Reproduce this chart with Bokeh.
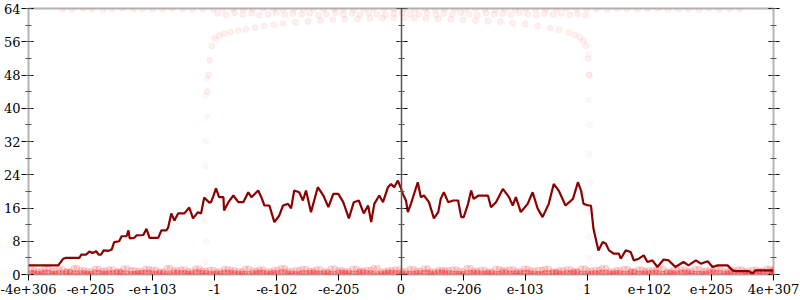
from bokeh.plotting import figure
from bokeh.models import Range1d, LinearAxis, FixedTicker, SingleIntervalTicker, CustomJSTickFormatter
from bokeh.embed import file_html
from bokeh.resources import INLINE

# ---- x axis: ordinal position of floating-point values ----
tick_pos = [-6, -5, -4, -3, -2, -1, 0, 1, 2, 3, 4, 5, 6]
tick_labels = ["-4e+306", "-e+205", "-e+103", "-1", "-e-102", "-e-205", "0",
               "e-206", "e-103", "1", "e+102", "e+205", "4e+307"]

# ---- average error line ----
line_x = [
    -6.00, -5.52, -5.44, -5.40, -5.18, -5.15, -5.07, -5.02, -4.97, -4.91,
    -4.87, -4.83, -4.79, -4.71, -4.66, -4.62, -4.54, -4.50, -4.42, -4.39,
    -4.37, -4.30, -4.26, -4.15, -4.10, -4.05, -3.91, -3.86, -3.78, -3.75,
    -3.70, -3.65, -3.59, -3.49, -3.41, -3.35, -3.27, -3.22, -3.17, -3.09,
    -3.06, -3.02, -2.98, -2.93, -2.86, -2.85, -2.78, -2.70, -2.62, -2.54,
    -2.46, -2.41, -2.30, -2.25, -2.20, -2.12, -2.04, -1.96, -1.90, -1.82,
    -1.77, -1.72, -1.64, -1.58, -1.53, -1.45, -1.34, -1.25, -1.17, -1.09,
    -1.01, -0.93, -0.84, -0.76, -0.68, -0.60, -0.53, -0.48, -0.43, -0.35,
    -0.29, -0.21, -0.16, -0.11, -0.05, 0.00, 0.03, 0.08, 0.11, 0.16,
    0.27, 0.32, 0.37, 0.45, 0.53, 0.60, 0.64, 0.69, 0.76, 0.84,
    0.92, 0.97, 1.01, 1.08, 1.13, 1.17, 1.25, 1.40, 1.45, 1.53,
    1.64, 1.74, 1.80, 1.85, 1.93, 2.04, 2.12, 2.20, 2.28, 2.38,
    2.46, 2.54, 2.65, 2.77, 2.85, 2.90, 2.94, 3.02, 3.06, 3.10,
    3.18, 3.25, 3.30, 3.35, 3.43, 3.51, 3.54, 3.62, 3.70, 3.75,
    3.83, 3.91, 3.97, 4.05, 4.13, 4.23, 4.31, 4.42, 4.55, 4.63,
    4.75, 4.83, 4.94, 5.02, 5.10, 5.26, 5.34, 5.39, 5.60, 5.66,
    5.71, 6.00,
]
line_y = [
    2.2, 2.2, 3.8, 4.0, 4.0, 4.8, 4.8, 5.5, 5.2, 5.6,
    4.8, 4.8, 5.8, 5.7, 6.0, 7.8, 8.0, 9.2, 9.2, 10.6,
    8.7, 8.8, 9.4, 9.5, 11.0, 8.8, 8.8, 10.6, 10.6, 11.3,
    14.7, 13.0, 14.7, 14.7, 16.1, 13.5, 15.0, 14.7, 18.5, 17.3,
    17.4, 19.0, 20.7, 18.6, 18.6, 15.4, 17.4, 19.0, 17.4, 17.4,
    19.8, 18.6, 20.2, 18.6, 16.6, 16.6, 12.6, 14.2, 16.6, 17.0,
    15.9, 20.2, 19.8, 17.8, 20.2, 15.0, 21.0, 19.0, 16.2, 19.4,
    19.4, 17.4, 13.5, 17.4, 17.8, 14.7, 16.6, 12.6, 17.0, 19.0,
    17.4, 21.0, 21.8, 21.0, 22.6, 20.7, 19.4, 17.8, 15.0, 17.0,
    22.2, 18.6, 19.0, 17.4, 13.5, 15.0, 18.2, 19.8, 17.4, 17.8,
    17.8, 13.8, 13.8, 17.0, 20.2, 18.2, 19.0, 19.0, 16.2, 17.4,
    20.6, 18.6, 16.6, 18.6, 15.0, 17.0, 19.8, 15.9, 13.8, 17.0,
    21.8, 20.2, 16.6, 18.2, 22.2, 20.2, 17.0, 16.6, 16.6, 11.0,
    5.8, 7.8, 7.4, 5.8, 5.0, 5.0, 3.8, 5.8, 5.4, 3.4,
    3.8, 4.6, 3.0, 3.4, 1.8, 3.6, 3.4, 1.8, 3.0, 2.2,
    3.4, 2.6, 3.2, 1.8, 2.2, 2.2, 1.0, 0.8, 0.8, 0.2,
    1.0, 1.0,
]

# ---- sampled points (faint) ----
bot_x = [
    -5.96, -5.85, -5.74, -5.62, -5.51, -5.39, -5.27, -5.16, -5.05, -4.93,
    -4.81, -4.70, -4.58, -4.47, -4.35, -4.24, -4.12, -4.01, -3.89, -3.77,
    -3.66, -3.54, -3.43, -3.31, -3.20, -3.08, -2.97, -2.85, -2.74, -2.62,
    -2.51, -2.39, -2.28, -2.16, -2.05, -1.93, -1.82, -1.70, -1.59, -1.47,
    -1.36, -1.24, -1.13, -1.01, -0.90, -0.78, -0.67, -0.55, -0.44, -0.32,
    -0.21, -0.09, 0.02, 0.14, 0.25, 0.37, 0.48, 0.60, 0.71, 0.83,
    0.94, 1.06, 1.17, 1.29, 1.40, 1.52, 1.63, 1.75, 1.86, 1.98,
    2.09, 2.21, 2.32, 2.44, 2.55, 2.67, 2.78, 2.90, 3.01, 3.13,
    3.24, 3.36, 3.47, 3.59, 3.70, 3.82, 3.93, 4.05, 4.16, 4.28,
    4.39, 4.51, 4.62, 4.74, 4.85, 4.97, 5.08, 5.20, 5.31, 5.43,
    5.54, 5.66, 5.77, 5.89, 5.98,
]
bot_x2 = [
    -5.91, -5.79, -5.68, -5.57, -5.45, -5.33, -5.22, -5.10, -4.99, -4.87,
    -4.76, -4.64, -4.52, -4.41, -4.29, -4.18, -4.06, -3.95, -3.83, -3.72,
    -3.60, -3.48, -3.37, -3.25, -3.14, -3.02, -2.91, -2.79, -2.68, -2.56,
    -2.45, -2.33, -2.22, -2.10, -1.99, -1.87, -1.76, -1.64, -1.53, -1.41,
    -1.30, -1.18, -1.07, -0.95, -0.84, -0.72, -0.61, -0.49, -0.38, -0.26,
    -0.15, -0.03, 0.08, 0.20, 0.31, 0.43, 0.54, 0.66, 0.77, 0.89,
    1.00, 1.12, 1.23, 1.35, 1.46, 1.58, 1.69, 1.81, 1.92, 2.04,
    2.15, 2.27, 2.38, 2.50, 2.61, 2.73, 2.84, 2.96, 3.07, 3.19,
    3.30, 3.42, 3.53, 3.65, 3.76, 3.88, 3.99, 4.11, 4.22, 4.34,
    4.45, 4.57, 4.68, 4.80, 4.91, 5.03, 5.14, 5.26, 5.37, 5.49,
    5.60, 5.72, 5.83, 5.94, 5.99,
]
bot_y_low = [
    0.3, 0.2, 0.4, 0.1, 0.3, 0.5, 0.2, 0.3, 0.1, 0.4,
    0.2, 0.3, 0.5, 0.2, 0.1, 0.3, 0.4, 0.2, 0.3, 0.1,
    0.4, 0.3, 0.2, 0.5, 0.3, 0.1, 0.2, 0.4, 0.3, 0.2,
    0.1, 0.3, 0.4, 0.2, 0.3, 0.5, 0.2, 0.1, 0.3, 0.4,
    0.2, 0.3, 0.1, 0.4, 0.3, 0.2, 0.5, 0.3, 0.1, 0.2,
    0.4, 0.3, 0.2, 0.1, 0.3, 0.4, 0.2, 0.5, 0.3, 0.2,
    0.1, 0.3, 0.4, 0.2, 0.3, 0.1, 0.5, 0.2, 0.3, 0.4,
    0.2, 0.1, 0.3, 0.4, 0.2, 0.3, 0.5, 0.1, 0.2, 0.3,
    0.4, 0.2, 0.3, 0.1, 0.5, 0.2, 0.3, 0.4, 0.1, 0.3,
    0.2, 0.4, 0.3, 0.1, 0.2, 0.5, 0.3, 0.2, 0.4, 0.1,
    0.3, 0.2, 0.4, 0.3, 0.2,
]
bot_y_high = [
    1.1, 0.8, 1.4, 0.9, 1.2, 0.7, 1.5, 1.0, 0.8, 1.3,
    0.9, 1.2, 0.7, 1.4, 1.0, 0.8, 1.3, 1.1, 0.7, 1.5,
    1.0, 1.2, 0.8, 1.4, 0.9, 1.1, 0.7, 1.3, 1.0, 0.8,
    1.4, 0.9, 1.2, 0.7, 1.1, 1.5, 0.8, 1.0, 1.3, 0.9,
    1.2, 0.7, 1.4, 1.0, 0.8, 1.3, 0.9, 1.1, 1.5, 0.7,
    1.0, 1.2, 0.8, 1.3, 0.9, 1.4, 0.7, 1.1, 1.0, 1.2,
    0.8, 1.5, 0.9, 1.1, 0.7, 1.3, 1.0, 1.2, 0.8, 1.4,
    0.9, 1.1, 1.3, 0.7, 1.0, 1.2, 0.8, 1.4, 0.9, 1.1,
    1.5, 0.7, 1.0, 1.3, 0.8, 1.2, 0.9, 1.1, 1.4, 0.7,
    1.0, 1.2, 0.8, 1.3, 0.9, 1.1, 1.5, 0.7, 1.0, 1.2,
    0.8, 1.1, 0.9, 1.3, 1.0,
]
top_x = [
    -5.45, -5.30, -5.12, -4.98, -4.80, -4.66, -4.49, -4.31, -4.17, -4.00,
    -3.84, -3.69, -3.51, -3.36, -3.19, -3.02, -2.88, -2.71, -2.54, -2.39,
    -2.22, -2.05, -1.90, -1.73, -1.57, -1.41, -1.25, -1.08, -0.93, -0.76,
    -0.60, -0.44, -0.27, -0.11, 0.06, 0.22, 0.39, 0.55, 0.70, 0.87,
    1.03, 1.20, 1.35, 1.52, 1.68, 1.84, 2.01, 2.17, 2.33, 2.50,
    2.66, 2.82, 2.99, 3.15, 3.32, 3.48, 3.64, 3.81, 3.97, 4.14,
    4.30, 4.47, 4.63, 4.80, 4.96, 5.13, 5.29, 5.46,
]
top_y = [
    63.9, 63.8, 64.0, 63.9, 63.7, 63.9, 64.0, 63.8, 63.9, 63.9,
    63.8, 64.0, 63.9, 63.7, 63.9, 63.8, 64.0, 63.9, 63.8, 63.9,
    64.0, 63.9, 63.7, 63.9, 63.8, 64.0, 63.9, 63.9, 63.8, 63.7,
    63.9, 64.0, 63.8, 63.9, 63.9, 63.7, 64.0, 63.8, 63.9, 63.9,
    63.8, 64.0, 63.9, 63.7, 63.9, 63.8, 64.0, 63.9, 63.8, 63.9,
    64.0, 63.9, 63.8, 63.9, 63.7, 64.0, 63.9, 63.8, 63.9, 64.0,
    63.8, 63.9, 63.9, 63.7, 64.0, 63.8, 63.9, 63.9,
]
mid_x = [
    -2.95, -2.82, -2.68, -2.55, -2.41, -2.28, -2.14, -2.01, -1.87, -1.74,
    -1.60, -1.47, -1.33, -1.20, -1.06, -0.93, -0.79, -0.66, -0.52, -0.39,
    -0.25, -0.12, 0.02, 0.15, 0.29, 0.42, 0.56, 0.69, 0.83, 0.96,
    1.10, 1.23, 1.37, 1.50, 1.64, 1.77, 1.91, 2.04, 2.18, 2.31,
    2.45, 2.58, 2.72, 2.85, 2.97,
]
mid_y = [
    62.8, 62.5, 63.0, 62.6, 62.9, 62.4, 62.7, 63.0, 62.5, 62.8,
    62.6, 62.9, 62.4, 62.7, 63.0, 62.6, 62.8, 62.5, 62.9, 62.7,
    62.4, 62.8, 63.0, 62.6, 62.7, 62.9, 62.5, 62.8, 62.6, 63.0,
    62.7, 62.4, 62.9, 62.6, 62.8, 62.5, 63.0, 62.7, 62.4, 62.8,
    62.6, 62.9, 62.5, 62.7, 62.4,
]
curve_x = [
    -3.12, -3.10, -3.08, -3.05, -3.00, -2.93, -2.85, -2.75, -2.62, -2.50,
    -2.35, -2.20, -2.05, -1.90, -1.70, -1.50, -1.30, -1.10, -0.90, -0.70,
    -0.50, -0.30, -0.12, 0.05, 0.22, 0.40, 0.60, 0.80, 1.00, 1.20,
    1.40, 1.60, 1.80, 2.00, 2.20, 2.40, 2.55, 2.70, 2.80, 2.88,
    2.94, 2.98, 3.01, 3.03,
]
curve_y = [
    44.0, 48.0, 51.5, 55.0, 56.8, 57.5, 58.0, 58.3, 58.7, 59.0,
    59.4, 59.8, 60.1, 60.4, 60.7, 60.9, 61.1, 61.3, 61.4, 61.5,
    61.6, 61.7, 61.8, 61.8, 61.7, 61.6, 61.5, 61.4, 61.3, 61.1,
    61.0, 60.8, 60.5, 60.2, 59.8, 59.3, 58.8, 58.2, 57.6, 57.0,
    56.2, 55.0, 52.0, 48.0,
]
streak_x = [-3.15, -3.14, -3.16, -3.13, -3.15, -3.14, -3.12, -3.15, -3.13,
            3.03, 3.04, 3.02, 3.05, 3.03, 3.04, 3.02, 3.04, 3.03]
streak_y = [3, 8, 13, 19, 26, 32, 38, 43, 47,
            4, 9, 15, 22, 29, 36, 42, 48, 53]

FONT = "DejaVu Serif"

p = figure(width=800, height=300, output_backend="svg", toolbar_location=None,
           x_range=Range1d(-6, 6), y_range=Range1d(0, 64),
           min_border_left=27, min_border_right=27, min_border_top=8, min_border_bottom=26)
p.grid.visible = False
p.outline_line_color = "#b4b4b4"
p.outline_line_width = 2
p.background_fill_color = "white"
p.border_fill_color = "white"

# bottom axis
xa = p.xaxis[0]
xa.ticker = FixedTicker(ticks=tick_pos, minor_ticks=[])
xa.major_label_overrides = {t: lab for t, lab in zip(tick_pos, tick_labels)}
xa.axis_line_color = None
xa.major_tick_line_color = "black"
xa.major_tick_in = 0
xa.major_tick_out = 6
xa.major_label_standoff = 3
xa.major_label_text_font = FONT
xa.major_label_text_font_size = "13px"
xa.major_label_text_color = "black"

# left axis
ya = p.yaxis[0]
ya.ticker = SingleIntervalTicker(interval=8, num_minor_ticks=2)
ya.axis_line_color = None
ya.major_tick_line_color = "black"
ya.minor_tick_line_color = "#555555"
ya.major_tick_in = 5
ya.major_tick_out = 7
ya.minor_tick_in = 3
ya.minor_tick_out = 3
ya.major_label_standoff = 1
ya.major_label_text_font = FONT
ya.major_label_text_font_size = "13px"
ya.major_label_text_color = "black"

blank = CustomJSTickFormatter(code="return ''")

# right axis (ticks only)
ra = LinearAxis(ticker=SingleIntervalTicker(interval=8, num_minor_ticks=2), formatter=blank,
                axis_line_color=None, major_tick_line_color="black", minor_tick_line_color="#555555",
                major_tick_in=5, major_tick_out=6, minor_tick_in=3, minor_tick_out=3,
                major_label_standoff=0, major_label_text_font_size="1px")
p.add_layout(ra, "right")

# center axis at x = 0
ca = LinearAxis(fixed_location=0, ticker=SingleIntervalTicker(interval=8, num_minor_ticks=2),
                formatter=blank, axis_line_color="#555555", axis_line_width=1.5,
                major_tick_line_color="black", minor_tick_line_color="#555555",
                major_tick_in=5, major_tick_out=6, minor_tick_in=3, minor_tick_out=3,
                major_label_standoff=0, major_label_text_font_size="1px")
p.add_layout(ca, "right")

pt = dict(size=6, fill_color="red", fill_alpha=0.06, line_color="red", line_alpha=0.06)
band = dict(size=6, fill_color="red", fill_alpha=0.13, line_color="red", line_alpha=0.13)
band_low = dict(size=6, fill_color="red", fill_alpha=0.24, line_color="red", line_alpha=0.2)
p.scatter(bot_x, bot_y_high, **band)
p.scatter(bot_x2, bot_y_high, **band)
p.scatter(bot_x, bot_y_low, **band_low)
p.scatter(bot_x2, bot_y_low, **band_low)
p.scatter(top_x, top_y, **pt)
p.scatter(mid_x, mid_y, **pt)
p.scatter(curve_x, curve_y, **pt)
p.scatter(streak_x, streak_y, size=6, fill_color="red", fill_alpha=0.03, line_color="red", line_alpha=0.03)

p.line(line_x, line_y, line_color="#8b0000", line_width=2.2)

open("out.html", "w").write(file_html(p, INLINE))
